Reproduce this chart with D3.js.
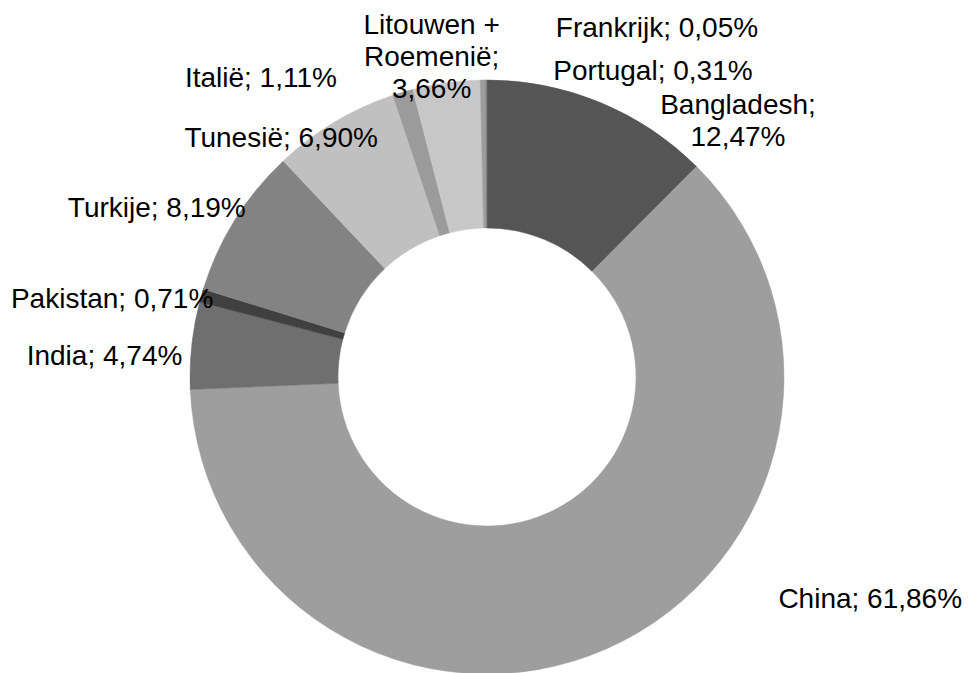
<!DOCTYPE html>
<html>
<head>
<meta charset="utf-8">
<script src="https://cdn.jsdelivr.net/npm/d3@7"></script>
<style>
  body { margin: 0; background: #fff; }
  text { font-family: "Liberation Sans", Arial, sans-serif; }
</style>
</head>
<body>
<div id="chart"></div>
<script>
// values, clockwise from 12 o'clock
const countries = ['Bangladesh', 'China', 'India', 'Pakistan', 'Turkije', 'Tunesië', 'Italië', 'Litouwen + Roemenië', 'Portugal', 'Frankrijk']
const shares = [12.47, 61.86, 4.74, 0.71, 8.19, 6.90, 1.11, 3.66, 0.31, 0.05]
const labelLines = [
  ['Bangladesh;', '12,47%'],
  ['China; 61,86%'],
  ['India; 4,74%'],
  ['Pakistan; 0,71%'],
  ['Turkije; 8,19%'],
  ['Tunesië; 6,90%'],
  ['Italië; 1,11%'],
  ['Litouwen +', 'Roemenië;', '3,66%'],
  ['Portugal; 0,31%'],
  ['Frankrijk; 0,05%']
]

const greys = ['#555555', '#9e9e9e', '#6f6f6f', '#404040', '#838383', '#c0c0c0', '#9b9b9b', '#c7c7c7', '#9c9c9c', '#7a7a7a']

// label spots in polar form: angle (deg from top, clockwise), distance as multiple of outer radius
const labelSpots = [[44.3, 1.21], [120, 1.49], [273.3, 1.29], [281.9, 1.29], [297.2, 1.25], [319.4, 1.065], [323, 1.265], [350.2, 1.095], [28.4, 1.175], [25.9, 1.31]]

const width = 973
const height = 673
const cx = 487
const cy = 377
const outerR = 297
const innerR = 149
const fontSize = 28
const lineH = 32

const svg = d3.select('#chart')
  .append('svg')
  .attr('width', width)
  .attr('height', height)

const g = svg.append('g')
  .attr('transform', `translate(${cx},${cy})`)

const pie = d3.pie()
  .sort(null)
  .value(d => d)

const arc = d3.arc()
  .innerRadius(innerR)
  .outerRadius(outerR)

const slices = pie(shares)

g.selectAll('path')
  .data(slices)
  .enter().append('path')
  .attr('d', arc)
  .attr('fill', (d, i) => greys[i])
  .attr('stroke', (d, i) => greys[i])
  .attr('stroke-width', 0.5)

const labels = g.selectAll('text.lbl')
  .data(labelLines)
  .enter().append('text')
  .attr('class', 'lbl')
  .attr('text-anchor', 'middle')
  .attr('font-size', fontSize + 'px')
  .attr('fill', '#000')
  .attr('transform', (d, i) => {
    const a = labelSpots[i][0] * Math.PI / 180
    const r = labelSpots[i][1] * outerR
    return `translate(${r * Math.sin(a)},${-r * Math.cos(a)})`
  })

labels.each(function (lines) {
  const t = d3.select(this)
  const top = -(lines.length - 1) * lineH / 2
  lines.forEach((line, k) => {
    t.append('tspan')
      .attr('x', 0)
      .attr('y', top + k * lineH)
      .attr('dy', '0.35em')
      .text(line)
  })
})
</script>
</body>
</html>
